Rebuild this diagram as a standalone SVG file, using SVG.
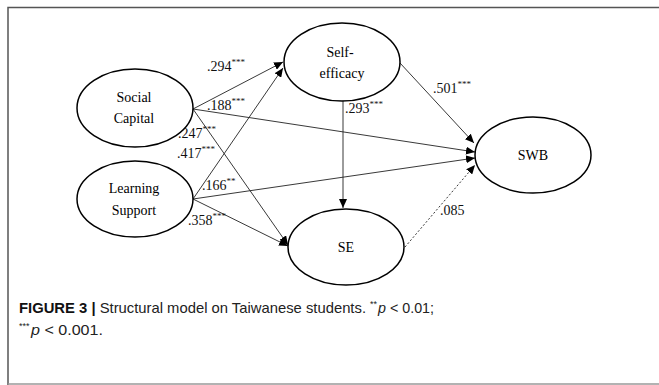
<svg xmlns="http://www.w3.org/2000/svg" width="659" height="385" viewBox="0 0 659 385">
<style>
.node ellipse{fill:#fff;stroke:#000;stroke-width:1.5}
.node text{font-family:"Liberation Serif","Times New Roman",serif;font-size:14px;fill:#000;text-anchor:middle}
.lab{font-family:"Liberation Serif","Times New Roman",serif;font-size:14px;fill:#111}
.sup{font-size:9px}
.edge{stroke:#222;stroke-width:0.9;fill:none;marker-end:url(#ah)}
.dot{stroke-dasharray:2,2}
.cap{font-family:"Liberation Sans",Arial,sans-serif;font-size:15px;fill:#222}
.capsup{font-family:"Liberation Sans",Arial,sans-serif;font-size:9px;fill:#222}
</style>
<defs>
<marker id="ah" markerWidth="9" markerHeight="8" refX="9" refY="4" orient="auto" markerUnits="userSpaceOnUse">
<path d="M0,0 L9,4 L0,8 Z" fill="#000"/>
</marker>
</defs>
<rect x="0" y="0" width="659" height="385" fill="#fff"/>
<path d="M8,385 V7.5 H659" fill="none" stroke="#555" stroke-width="1.5"/>
<line x1="8" y1="384" x2="659" y2="384" stroke="#999" stroke-width="1.5"/>
<g id="connectors">
<line class="edge" x1="193" y1="109" x2="283" y2="62"/>
<line class="edge" x1="193" y1="199" x2="283" y2="68"/>
<line class="edge" x1="193" y1="109" x2="475" y2="152"/>
<line class="edge" x1="193" y1="109" x2="288" y2="245"/>
<line class="edge" x1="193" y1="199" x2="475" y2="158"/>
<line class="edge" x1="193" y1="199" x2="288" y2="246"/>
<line class="edge" x1="400" y1="63" x2="474" y2="143"/>
<line class="edge" x1="343" y1="101" x2="343" y2="208"/>
<line class="edge dot" x1="405" y1="247" x2="475" y2="165"/>
</g>
<g id="labels">
<text class="lab" x="207" y="71">.294<tspan class="sup" dy="-6">***</tspan></text>
<text class="lab" x="207" y="110">.188<tspan class="sup" dy="-6">***</tspan></text>
<text class="lab" x="178" y="138">.247<tspan class="sup" dy="-6">***</tspan></text>
<text class="lab" x="177" y="158">.417<tspan class="sup" dy="-6">***</tspan></text>
<text class="lab" x="202" y="190">.166<tspan class="sup" dy="-6">**</tspan></text>
<text class="lab" x="188" y="225">.358<tspan class="sup" dy="-6">***</tspan></text>
<text class="lab" x="345" y="113">.293<tspan class="sup" dy="-6">***</tspan></text>
<text class="lab" x="433" y="93">.501<tspan class="sup" dy="-6">***</tspan></text>
<text class="lab" x="440" y="215">.085</text>
</g>
<g id="social-capital" class="node">
<ellipse cx="135" cy="108" rx="58" ry="39"/>
<text x="134" y="102">Social</text>
<text x="134" y="123">Capital</text>
</g>
<g id="learning-support" class="node">
<ellipse cx="135" cy="199" rx="58" ry="38"/>
<text x="134" y="193">Learning</text>
<text x="134" y="215">Support</text>
</g>
<g id="self-efficacy" class="node">
<ellipse cx="342" cy="62" rx="58" ry="39"/>
<text x="340" y="57">Self-</text>
<text x="342" y="78">efficacy</text>
</g>
<g id="swb" class="node">
<ellipse cx="533" cy="155" rx="58" ry="38"/>
<text x="533" y="160">SWB</text>
</g>
<g id="se" class="node">
<ellipse cx="346" cy="247" rx="58" ry="38"/>
<text x="346" y="252">SE</text>
</g>
<g id="caption">
<text class="cap" x="19" y="313" textLength="347" lengthAdjust="spacingAndGlyphs"><tspan font-weight="bold" fill="#111">FIGURE 3 |</tspan> Structural model on Taiwanese students.</text>
<text class="capsup" x="370" y="307">**</text>
<text class="cap" x="378" y="313" textLength="56" lengthAdjust="spacingAndGlyphs"><tspan font-style="italic">p</tspan> &lt; 0.01;</text>
<text class="capsup" x="19" y="329">***</text>
<text class="cap" x="31" y="335" textLength="72" lengthAdjust="spacingAndGlyphs"><tspan font-style="italic">p</tspan> &lt; 0.001.</text>
</g>
</svg>
